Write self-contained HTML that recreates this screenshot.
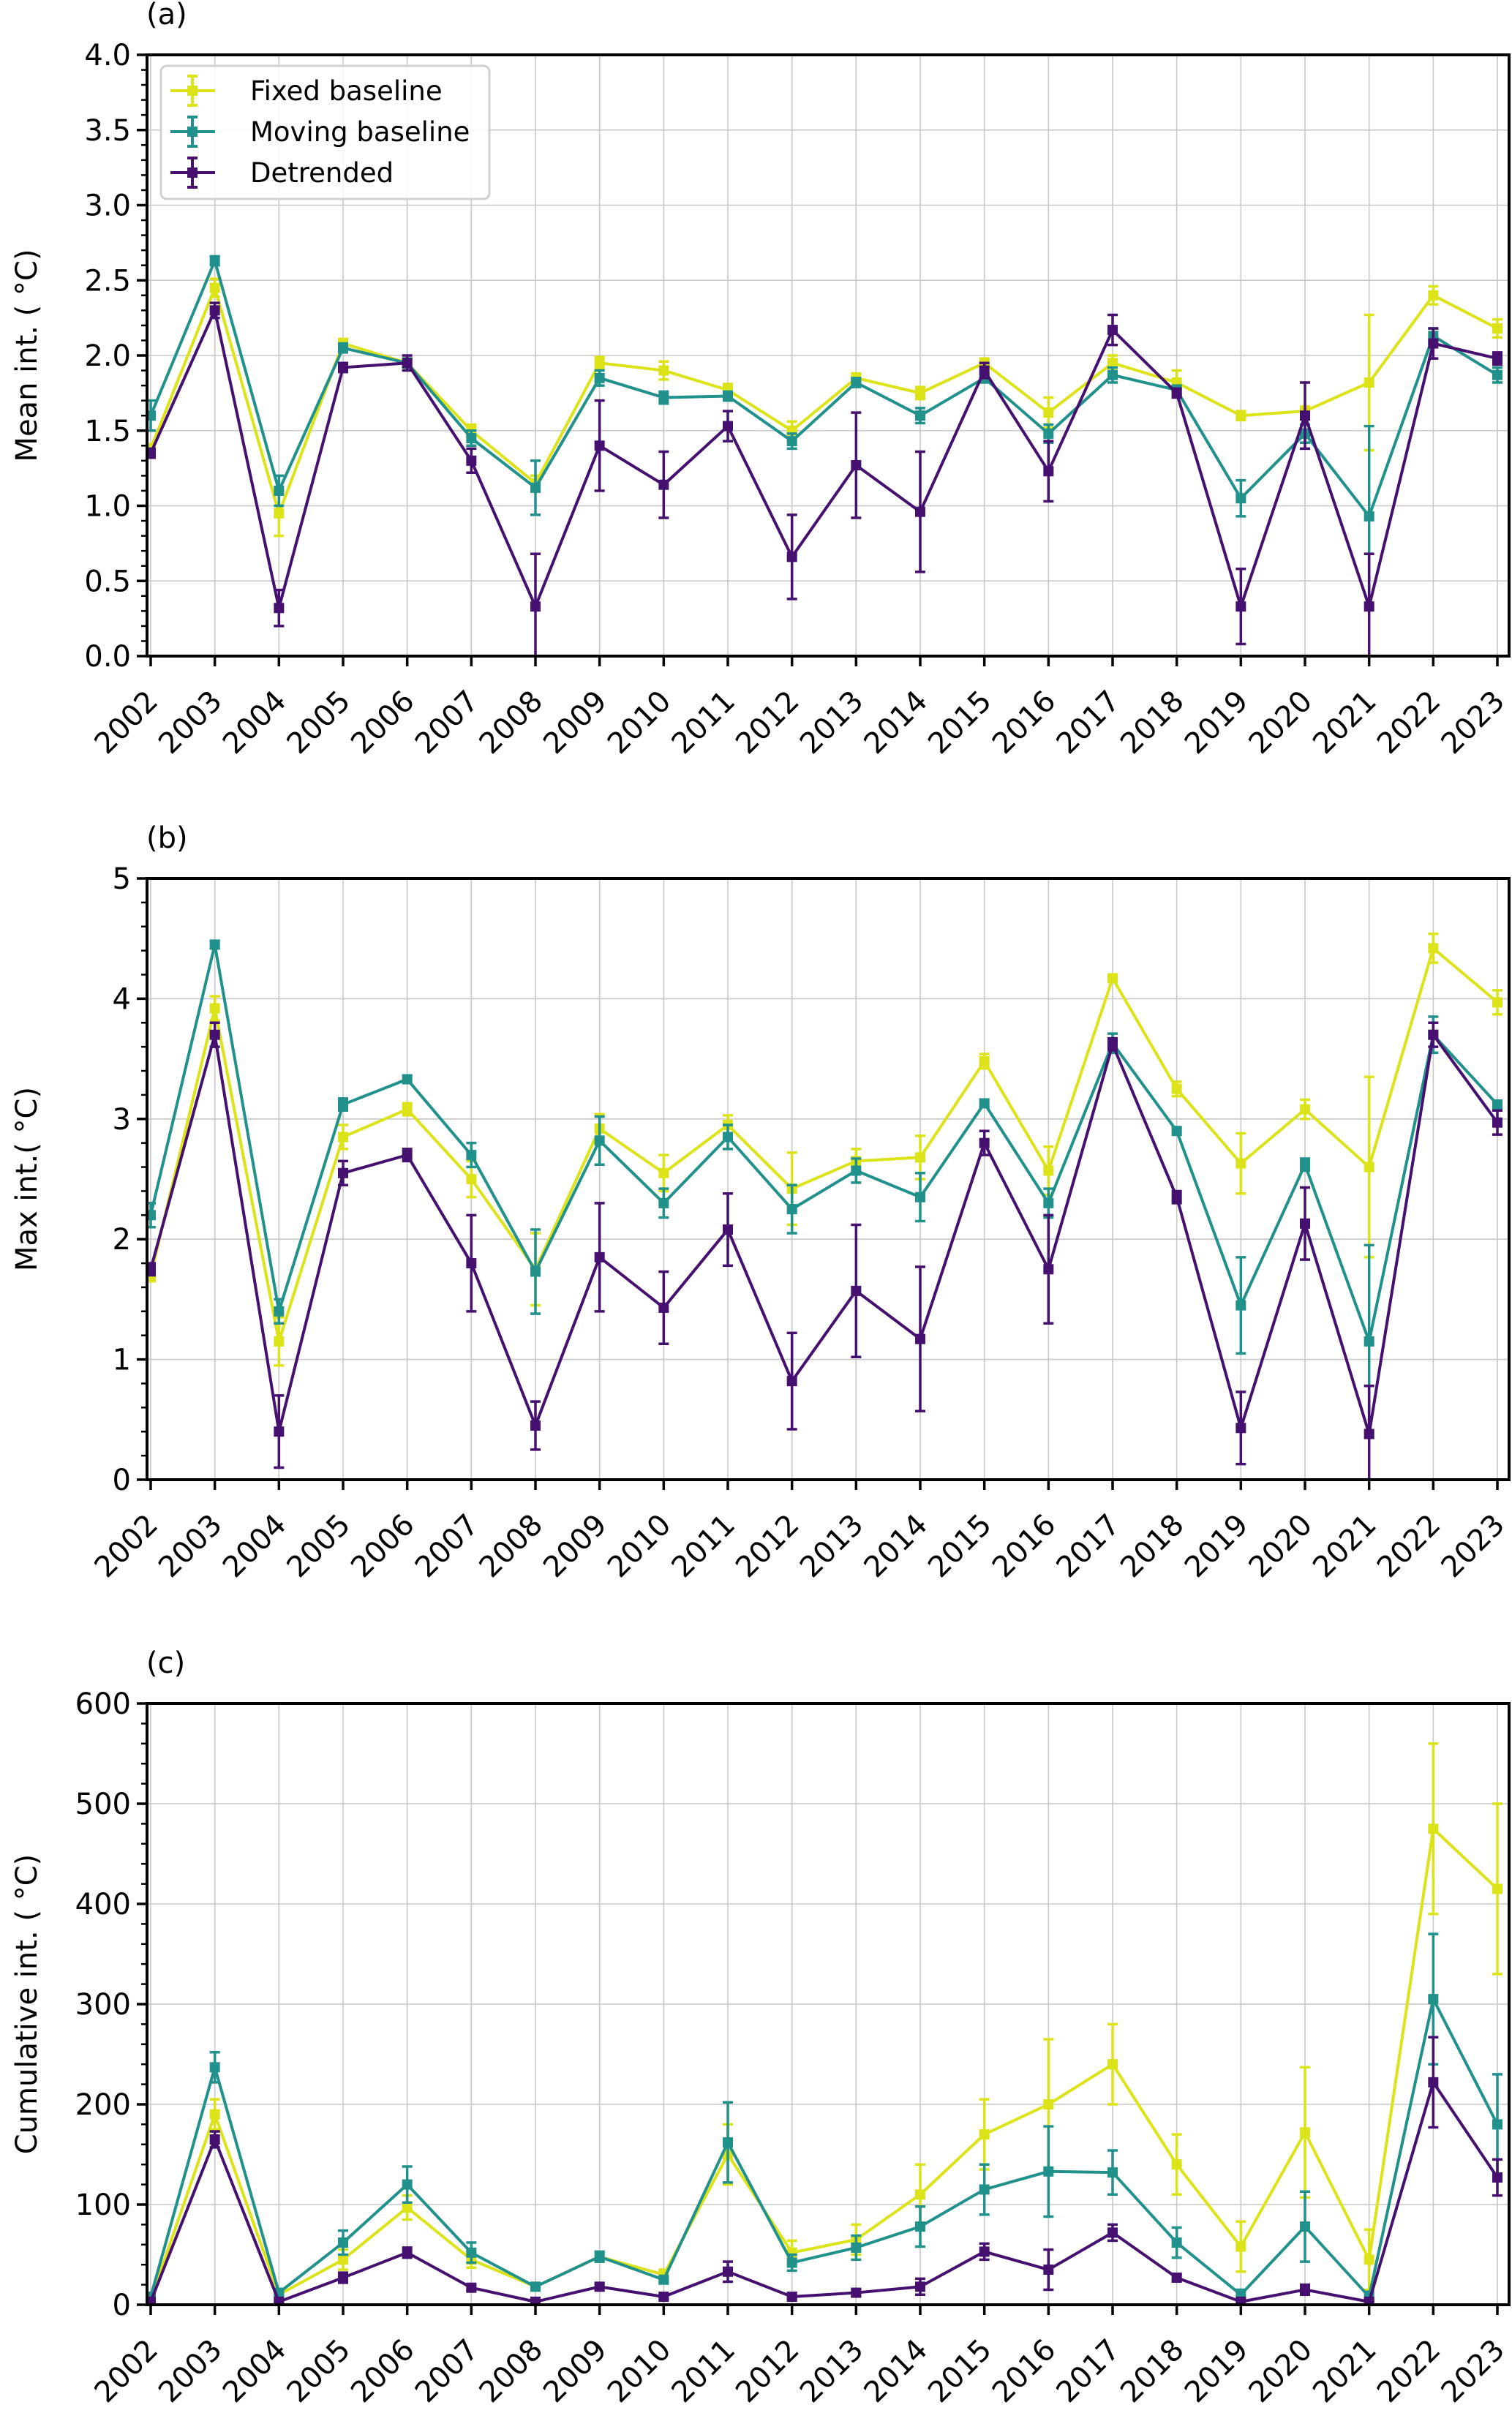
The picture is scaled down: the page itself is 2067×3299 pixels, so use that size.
<!DOCTYPE html>
<html><head><meta charset="utf-8"><style>
html,body{margin:0;padding:0;background:#fff;}
svg{display:block;font-family:"DejaVu Sans","Liberation Sans",sans-serif;}
</style></head>
<body>
<svg id="fig" width="2067" height="3299" viewBox="0 0 2067 3299" xmlns="http://www.w3.org/2000/svg"></svg>
<script>
const years = [2002,2003,2004,2005,2006,2007,2008,2009,2010,2011,2012,2013,2014,2015,2016,2017,2018,2019,2020,2021,2022,2023];
const seriesNames = ["Fixed baseline","Moving baseline","Detrended"];
// Panel (a) mean intensity
const meanFixed = [1.38,2.45,0.95,2.08,1.95,1.5,1.15,1.95,1.9,1.77,1.5,1.85,1.75,1.95,1.62,1.95,1.82,1.6,1.63,1.82,2.4,2.18];
const meanFixedErr = [0.03,0.06,0.15,0.03,0.03,0.04,0.05,0.04,0.06,0.04,0.06,0.03,0.04,0.03,0.1,0.05,0.08,0.03,0.03,0.45,0.06,0.06];
const meanMoving = [1.6,2.63,1.1,2.05,1.95,1.45,1.12,1.85,1.72,1.73,1.43,1.82,1.6,1.85,1.48,1.87,1.77,1.05,1.48,0.93,2.13,1.87];
const meanMovingErr = [0.1,0.03,0.1,0.03,0.03,0.05,0.18,0.05,0.04,0.03,0.05,0.03,0.05,0.03,0.06,0.05,0.03,0.12,0.06,0.6,0.05,0.05];
const meanDetr = [1.35,2.3,0.32,1.92,1.95,1.3,0.33,1.4,1.14,1.53,0.66,1.27,0.96,1.9,1.23,2.17,1.75,0.33,1.6,0.33,2.08,1.98];
const meanDetrErr = [0.03,0.05,0.12,0.03,0.05,0.08,0.35,0.3,0.22,0.1,0.28,0.35,0.4,0.05,0.2,0.1,0.03,0.25,0.22,0.35,0.1,0.04];
const meanTicks = ["0.0","0.5","1.0","1.5","2.0","2.5","3.0","3.5","4.0"];
// Panel (b) max intensity
const maxFixed = [1.7,3.92,1.15,2.85,3.08,2.5,1.75,2.92,2.55,2.95,2.42,2.65,2.68,3.48,2.57,4.17,3.25,2.63,3.08,2.6,4.42,3.97];
const maxFixedErr = [0.05,0.1,0.2,0.1,0.05,0.15,0.3,0.12,0.15,0.08,0.3,0.1,0.18,0.06,0.2,0.03,0.06,0.25,0.08,0.75,0.12,0.1];
const maxMoving = [2.2,4.45,1.4,3.12,3.33,2.7,1.73,2.82,2.3,2.85,2.25,2.57,2.35,3.13,2.3,3.63,2.9,1.45,2.62,1.15,3.7,3.12];
const maxMovingErr = [0.1,0.03,0.1,0.05,0.03,0.1,0.35,0.2,0.12,0.1,0.2,0.1,0.2,0.03,0.12,0.08,0.03,0.4,0.05,0.8,0.15,0.03];
const maxDetr = [1.75,3.7,0.4,2.55,2.7,1.8,0.45,1.85,1.43,2.08,0.82,1.57,1.17,2.8,1.75,3.62,2.35,0.43,2.13,0.38,3.7,2.97];
const maxDetrErr = [0.05,0.1,0.3,0.1,0.05,0.4,0.2,0.45,0.3,0.3,0.4,0.55,0.6,0.1,0.45,0.05,0.05,0.3,0.3,0.4,0.1,0.1];
const maxTicks = ["0","1","2","3","4","5"];
// Panel (c) cumulative intensity
const cumFixed = [5,190,10,45,97,45,18,48,30,150,52,65,110,170,200,240,140,58,172,45,475,415];
const cumFixedErr = [2,15,3,10,12,8,3,5,5,30,12,15,30,35,65,40,30,25,65,30,85,85];
const cumMoving = [8,237,12,62,120,52,18,48,25,162,42,57,78,115,133,132,62,10,78,8,305,180];
const cumMovingErr = [3,15,3,12,18,10,3,5,3,40,8,12,20,25,45,22,15,5,35,5,65,50];
const cumDetr = [3,165,3,27,52,17,3,18,8,33,8,12,18,53,35,72,27,3,15,3,222,127];
const cumDetrErr = [1,8,1,5,5,3,1,3,2,10,2,3,8,8,20,8,3,2,5,2,45,18];
const cumTicks = ["0","100","200","300","400","500","600"];

const NS = "http://www.w3.org/2000/svg";
const svg = document.getElementById('fig');
const colors = ["#dce319","#21918c","#45106f"];
const FS = 40;
function mk(tag, attrs, parent){
  const e = document.createElementNS(NS, tag);
  for (const k in attrs) e.setAttribute(k, attrs[k]);
  (parent||svg).appendChild(e);
  return e;
}
const X0 = 201, X1 = 2063;
function xScale(yr){ return 206 + (yr - 2002) * (2047 - 206) / 21; }

function panel(id, label, top, bottom, ymax, majorStep, minorStep, ticks, ylabel, data, errs, withLegend){
  const g = mk('g', {});
  
  
  const yS = v => bottom - (v / ymax) * (bottom - top);
  years.forEach(yr => {
    const l = mk('line', {x1:xScale(yr), x2:xScale(yr), y1:top, y2:bottom, stroke:'#c8c8c8', 'stroke-width':1.6}, g);
    
    
  });
  ticks.forEach((t, i) => {
    const y = yS(i * majorStep);
    const l = mk('line', {x1:X0, x2:X1, y1:y, y2:y, stroke:'#c8c8c8', 'stroke-width':1.6}, g);
    
    
  });
  const cp = mk('clipPath', {id:'clip-' + id}, g);
  mk('rect', {x:X0, y:top, width:X1 - X0, height:bottom - top}, cp);
  const plot = mk('g', {'clip-path':'url(#clip-' + id + ')'}, g);
  
  
  data.forEach((ser, si) => {
    const sg = mk('g', {}, plot);
    
    
    const c = colors[si];
    const pts = ser.map((v, i) => xScale(years[i]) + ',' + yS(v)).join(' ');
    const pl = mk('polyline', {points:pts, fill:'none', stroke:c, 'stroke-width':4, 'stroke-linejoin':'round'}, sg);
    
    
    ser.forEach((v, i) => {
      const x = xScale(years[i]);
      const e = errs[si][i];
      const y1 = yS(v + e), y2 = yS(v - e);
      const eb = mk('path', {d:`M${x},${y1}V${y2}M${x-7},${y1}H${x+7}M${x-7},${y2}H${x+7}`, stroke:c, 'stroke-width':3.5, fill:'none'}, sg);
      
      
      const m = mk('rect', {x:x - 7, y:yS(v) - 7, width:14, height:14, fill:c}, sg);
      
      
    });
  });
  const sp = mk('rect', {x:X0, y:top, width:X1 - X0, height:bottom - top, fill:'none', stroke:'#000', 'stroke-width':4}, g);
  
  
  const nMinor = Math.round(ymax / minorStep);
  for (let k = 0; k <= nMinor; k++){
    const y = yS(k * minorStep);
    const l = mk('line', {x1:X0 - 8, x2:X0, y1:y, y2:y, stroke:'#000', 'stroke-width':2.5}, g);
    
    
  }
  ticks.forEach((t, i) => {
    const y = yS(i * majorStep);
    const l = mk('line', {x1:X0 - 14, x2:X0, y1:y, y2:y, stroke:'#000', 'stroke-width':3.5}, g);
    
    
    const tx = mk('text', {x:X0 - 22, y:y + 14, 'text-anchor':'end', 'font-size':FS}, g);
    
    
    tx.textContent = t;
  });
  years.forEach(yr => {
    const x = xScale(yr);
    const l = mk('line', {x1:x, x2:x, y1:bottom, y2:bottom + 14, stroke:'#000', 'stroke-width':3.5}, g);
    
    
    const px = x + 12, py = bottom + 64;
    const tx = mk('text', {x:px, y:py, 'text-anchor':'end', 'font-size':FS, transform:`rotate(-45 ${px} ${py})`}, g);
    
    
    tx.textContent = yr;
  });
  const cy = (top + bottom) / 2;
  const yl = mk('text', {x:50, y:cy, 'text-anchor':'middle', 'font-size':FS, transform:`rotate(-90 50 ${cy})`}, g);
  
  
  yl.textContent = ylabel;
  const pl = mk('text', {x:200, y:top - 42, 'font-size':FS}, g);
  
  
  pl.textContent = label;
  if (withLegend){
    const lg = mk('g', {}, g);
    
    
    mk('rect', {x:220, y:90, width:449, height:182, rx:8, fill:'#fff', 'fill-opacity':0.85, stroke:'#d0d0d0', 'stroke-width':3}, lg);
    seriesNames.forEach((n, i) => {
      const y = 124 + i * 56;
      const c = colors[i];
      const en = mk('g', {}, lg);
      
      
      mk('path', {d:`M233,${y}H294M${263},${y-20}V${y+20}M256,${y-20}H270M256,${y+20}H270`, stroke:c, 'stroke-width':4, fill:'none'}, en);
      mk('rect', {x:256, y:y - 7, width:14, height:14, fill:c}, en);
      const t = mk('text', {x:342, y:y + 13, 'font-size':37}, en);
      t.textContent = n;
    });
  }
}

panel('a', '(a)', 75, 897, 4, 0.5, 0.1, meanTicks, 'Mean int. ( °C)',
  [meanFixed, meanMoving, meanDetr], [meanFixedErr, meanMovingErr, meanDetrErr], true);
panel('b', '(b)', 1201, 2023, 5, 1, 0.2, maxTicks, 'Max int.( °C)',
  [maxFixed, maxMoving, maxDetr], [maxFixedErr, maxMovingErr, maxDetrErr], false);
panel('c', '(c)', 2329, 3151, 600, 100, 20, cumTicks, 'Cumulative int. ( °C)',
  [cumFixed, cumMoving, cumDetr], [cumFixedErr, cumMovingErr, cumDetrErr], false);
</script>
</body></html>
